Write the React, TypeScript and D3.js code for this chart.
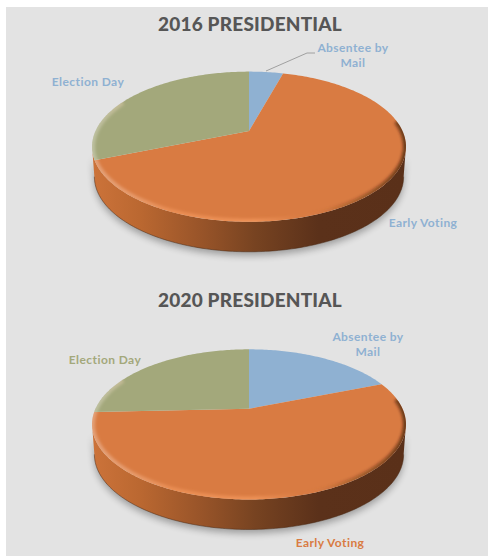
import React from "react";
import * as d3 from "d3";

const categories = ["Absentee by Mail", "Early Voting", "Election Day"];
const share2016 = [4.3, 64.6, 31.1];
const share2020 = [19, 55.3, 25.7];
const sliceColors = ["#8fb1d2", "#d97b42", "#a3a87b"];

const WIDTH = 488;
const HEIGHT = 556;
const FONT = "Lato, 'Open Sans', sans-serif";

// Tilted-disc projection: the near edge of the disc renders larger than the far edge.
const CX = 249;
const RX = 153.5;
const RY = 71.8;
const TILT = 0.209;
const DEPTH = 30;
const deg = Math.PI / 180;

function project(theta: number, r: number, apexY: number, dy = 0, shrink = 1): [number, number] {
  const u = Math.sin(theta) * r;
  const v = -Math.cos(theta) * r;
  const w = 1 - TILT * v;
  return [CX + (RX * shrink * u) / w, apexY + (RY * v) / w + dy];
}

const line = d3.line<[number, number]>().curve(d3.curveLinear);
const pie = d3.pie<number>().sort(null).value((d) => d);

function arcPoints(a0: number, a1: number, apexY: number, dy = 0, shrink = 1) {
  const n = Math.max(2, Math.ceil(Math.abs(a1 - a0) / (1 * deg)));
  return d3.range(n + 1).map((i) => project(a0 + ((a1 - a0) * i) / n, 1, apexY, dy, shrink));
}

function Disc({ id, values, apexY }: { id: string; values: number[]; apexY: number }) {
  const slices = pie(values);
  const rim = arcPoints(0, 2 * Math.PI, apexY);
  const tangentA = Math.acos(-TILT);
  const tangentB = 2 * Math.PI - tangentA;
  const wall = [
    ...arcPoints(tangentA, tangentB, apexY),
    ...arcPoints(tangentB, tangentA, apexY, DEPTH, 0.985),
  ];
  const frontRim = arcPoints(82 * deg, 296 * deg, apexY);
  const lowerEdge = arcPoints(tangentA, tangentB, apexY, DEPTH, 0.985);
  return (
    <g>
      <clipPath id={`${id}-top`}>
        <path d={line(rim) + "Z"} />
      </clipPath>
      <path
        d={line(wall) + "Z"}
        fill="#000"
        opacity={0.3}
        filter="url(#soft-shadow)"
        transform="translate(0,4)"
      />
      <path d={line(wall) + "Z"} fill="url(#wall-shade)" />
      <path d={line(lowerEdge)!} fill="none" stroke="#4a2812" strokeWidth={1} opacity={0.5} />
      {slices.map((s, i) => (
        <path
          key={categories[i]}
          d={
            line([[CX, apexY], ...arcPoints(s.startAngle, s.endAngle, apexY)])! + "Z"
          }
          fill={sliceColors[i]}
        />
      ))}
      <g clipPath={`url(#${id}-top)`}>
        <path
          d={line(frontRim)!}
          fill="none"
          stroke="url(#rim-shade)"
          strokeWidth={6}
          filter="url(#soft-rim)"
        />
      </g>
    </g>
  );
}

function Label({ x, y, lines, fill }: { x: number; y: number; lines: string[]; fill: string }) {
  return (
    <text x={x} y={y} textAnchor="middle" fontFamily={FONT} fontWeight={700} fontSize={12} letterSpacing={0.42} fill={fill}>
      {lines.map((t, i) => (
        <tspan key={t} x={x} dy={i === 0 ? 0 : 15}>
          {t}
        </tspan>
      ))}
    </text>
  );
}

function Title({ y, text }: { y: number; text: string }) {
  return (
    <text x={250} y={y} textAnchor="middle" fontFamily={FONT} fontWeight={900} fontSize={19} letterSpacing={0.2} fill="#565656">
      {text}
    </text>
  );
}

export default function App() {
  const [blue, orange, green] = sliceColors;
  return (
    <svg
      width={WIDTH}
      height={HEIGHT}
      viewBox={`0 0 ${WIDTH} ${HEIGHT}`}
      style={{ position: "absolute", left: 0, top: 0, background: "#fff" }}
    >
      <defs>
        <linearGradient id="wall-shade" gradientUnits="userSpaceOnUse" x1={92} x2={406} y1={0} y2={0}>
          <stop offset="0" stopColor="#cc733a" />
          <stop offset="0.15" stopColor="#bb6831" />
          <stop offset="0.35" stopColor="#985429" />
          <stop offset="0.52" stopColor="#774321" />
          <stop offset="0.72" stopColor="#5b311a" />
          <stop offset="1" stopColor="#5a3019" />
        </linearGradient>
        <linearGradient id="rim-shade" gradientUnits="userSpaceOnUse" x1={92} x2={406} y1={0} y2={0}>
          <stop offset="0" stopColor="#fff" stopOpacity={0.28} />
          <stop offset="0.25" stopColor="#ffa468" stopOpacity={0.45} />
          <stop offset="0.52" stopColor="#ffa468" stopOpacity={0.55} />
          <stop offset="0.66" stopColor="#ffa468" stopOpacity={0} />
          <stop offset="0.8" stopColor="#3a1c08" stopOpacity={0.2} />
          <stop offset="1" stopColor="#2a1405" stopOpacity={0.65} />
        </linearGradient>
        <filter id="soft-shadow" x="-10%" y="-10%" width="120%" height="130%">
          <feGaussianBlur stdDeviation={3.5} />
        </filter>
        <filter id="soft-rim" x="-10%" y="-10%" width="120%" height="120%">
          <feGaussianBlur stdDeviation={1.6} />
        </filter>
      </defs>
      <rect x={6} y={7} width={482} height={549} fill="#e3e3e3" />

      <Title y={31} text="2016 PRESIDENTIAL" />
      <Disc id="pie-2016" values={share2016} apexY={131} />
      <polyline points="266,71 307,53 315,53" fill="none" stroke="#a0a0a0" strokeWidth={1} />
      <Label x={353} y={52} lines={["Absentee by", "Mail"]} fill={blue} />
      <Label x={88} y={86} lines={["Election Day"]} fill={blue} />
      <Label x={423} y={227} lines={["Early Voting"]} fill={blue} />

      <Title y={307} text="2020 PRESIDENTIAL" />
      <Disc id="pie-2020" values={share2020} apexY={408.7} />
      <Label x={368} y={341} lines={["Absentee by", "Mail"]} fill={blue} />
      <Label x={105} y={364} lines={["Election Day"]} fill={green} />
      <Label x={330} y={547} lines={["Early Voting"]} fill={orange} />
    </svg>
  );
}
